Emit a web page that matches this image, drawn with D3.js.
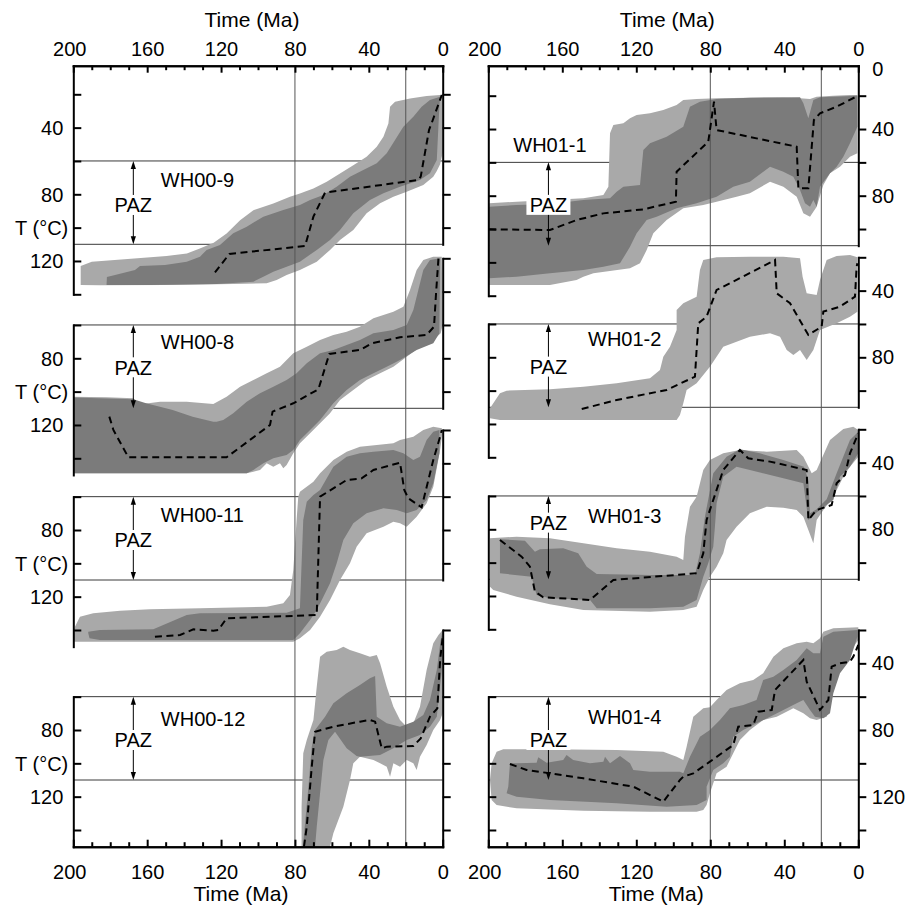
<!DOCTYPE html>
<html><head><meta charset="utf-8">
<script src="https://cdn.jsdelivr.net/npm/d3@7"></script>
<style>
body{margin:0;background:#fff;}
svg{display:block;}
</style></head><body>
<svg id="chart" width="911" height="905"></svg>
<script>
// ================= DATA (time in Ma, temperature in °C) =================
const timeTicks = [200, 160, 120, 80, 40, 0];
const minorTimeTicks = [190, 180, 170, 150, 140, 130, 110, 100, 90, 70, 60, 50, 30, 20, 10];
const referenceAges = [80, 20];
const pazLimits = [60, 110];
const sampleNames = ["WH00-9", "WH00-8", "WH00-11", "WH00-12", "WH01-1", "WH01-2", "WH01-3", "WH01-4"];

// outlines: acceptable-fit envelope (light), good-fit envelope (dark), best-fit path (dashed)
const WH00_9_acceptable = [[196,123],[190,120.5],[167,118.5],[149.5,117],[138.5,115.5],[131.5,112.5],[124,109],[117,103.5],[109.7,95.5],[102.5,89.5],[91.7,85.5],[82.7,81.5],[77.3,79.5],[70,76.5],[62.8,72.5],[55.6,67.5],[48.4,62.5],[41.2,57.5],[35.7,51.5],[32.1,45.5],[29.4,37.5],[28.5,27.5],[25.8,24.5],[17.7,22.5],[8.7,21],[1.4,20.4],[0,20],
 [0,55],[1.4,62],[3.2,66],[5.1,69.4],[10.5,74.4],[19.5,78.4],[26.7,81.4],[33.9,85.4],[41.2,91.4],[48.4,101.4],[55.6,107.4],[61,113.4],[68.2,120.4],[77.3,125.4],[84.5,128.4],[89.9,131.4],[95.3,133.4],[113.4,133.8],[149.5,134.4],[185.6,134.6],[196,134.4]];
const WH00_9_good = [[181.8,129.6],[177.4,128.4],[166.6,125.4],[163.9,123],[150.4,122.4],[138.6,120.4],[131.4,117.4],[127.8,113.4],[120.6,110.4],[113.4,103.4],[106.1,99.4],[97.1,93.4],[86.3,89.4],[77.3,86.4],[71.8,83.4],[64.6,80.4],[57.4,75.4],[50.2,69.4],[43,65.4],[35.7,61.4],[30.3,55.4],[25.8,47.4],[21.3,39.4],[15.9,33.4],[11.4,27.4],[6.9,23.4],[1.4,21.4],
 [1.8,27.4],[3.2,59.4],[6.9,67.4],[12.3,71.4],[23.1,75.4],[32.1,79.4],[39.4,83.4],[48.4,91.4],[55.6,101.4],[61,107.4],[68.2,113.4],[77.3,120.4],[84.5,123.4],[91.7,126.4],[97.1,129.4],[102.5,132.4],[122.4,133.8],[158.5,134.4],[182,134.4]];
const WH00_9_best = [[123.3,126.8],[115.5,115.8],[74.5,111],[70,93.4],[63.7,79],[13.2,71.4],[11.9,69.4],[7.4,41.4],[6,37.4],[0.5,20.4]];

const WH00_8_acceptable = [[200,103],[182,103.4],[167.5,104],[163.9,107.4],[159.4,107],[153,106],[138.6,106],[124.2,107.4],[117,103],[109.7,97],[102.5,93],[95.3,89],[88.1,85],[80.9,77],[73.6,73],[66.4,69],[59.2,66],[52,64],[44.8,61],[37.5,56],[26.7,52],[21.3,49],[17.7,39],[14.1,27],[10.5,21],[5.1,19],[0.5,19],
 [0,60],[1.1,65],[5.1,69],[12.3,73],[19.5,79],[26.7,85],[33.9,89],[41.2,93],[48.4,99],[55.6,105],[61,113],[66.4,119],[71.8,125],[77.3,131],[80.9,137],[84.5,144],[86.3,146],[88.1,143],[91.7,145],[95.3,143],[98.9,147],[102.5,148],[106.1,149],[200,149]];
const WH00_8_good = [[200,103.5],[167.5,104.5],[160.6,107],[146.2,111],[135.4,115],[124.2,118],[122.4,118],[118.8,117],[113.4,113],[106.1,106],[98.9,101],[91.7,97],[84.5,93],[79.1,89],[73.6,83],[66.4,77],[59.2,75],[52,72],[44.8,69],[37.5,65],[26.7,63],[19.5,60],[15.9,51],[13.2,39],[10.5,27],[6.9,21],[1.4,20],
 [1.8,65],[5.1,71],[14.1,75],[23.1,81],[30.3,85],[37.5,89],[44.8,93],[52,99],[59.2,107],[66.4,117],[71.8,123],[77.3,129],[80.9,135],[84.5,138],[91.7,140],[97.1,143],[102.5,147],[106.1,149],[200,149]];
const WH00_8_best = [[180.5,115],[178.3,123],[170.2,139.4],[117,139.4],[93.5,120],[92.1,112],[80.9,107],[67.3,98.6],[61.4,77.4],[44.8,75],[38.4,71],[23.1,67.4],[8.7,66],[4.7,61],[3.6,41],[2.3,20]];

const WH00_11_acceptable = [[199.1,138],[196.4,132],[189.2,130],[174.7,128.4],[158.5,127.6],[131.4,127],[95.3,126],[86.3,124],[82.7,119],[80.9,104],[79.1,74],[78.2,60],[77.3,57],[70,51],[66.4,46],[59.2,38],[52,33],[44.8,30],[35.7,29],[26.7,28],[23.1,26],[15.9,24],[10.5,20],[5.1,18],[0.5,19],
 [0,20],[1.4,32],[5.1,54],[8.7,64],[14.1,72],[19.5,78],[23.1,76],[26.7,75],[32.1,78],[41.2,82],[46.6,90],[50.2,100],[55.6,110],[61,122],[66.4,132],[71.8,140],[77.3,145],[80.9,147],[199.6,147],[199.6,142]];
const WH00_11_good = [[191.9,141],[185.6,140],[156.7,139.6],[138.6,131],[131.4,130],[84.5,129.6],[77.3,127],[75.5,74],[73.6,63],[70,59],[66.4,56],[59.2,42],[52,36],[44.8,34],[37.5,33],[26.7,32],[21.3,34],[15.9,38],[12.3,36],[8.7,26],[5.1,21],[1.8,20],
 [1.8,34],[5.1,52],[8.7,62],[14.1,68],[19.5,70],[24.9,68],[32.1,67],[41.2,70],[48.4,76],[53.8,86],[57.4,100],[61,112],[64.6,120],[68.2,128],[71.8,134],[77.3,142],[80.9,146],[185.6,146],[191.2,145],[191.9,142]];
const WH00_11_best = [[155.8,144],[142.2,143],[135,139.6],[124.2,140.4],[121.5,140],[117,133],[68.2,131],[66.4,60],[52,50],[43.9,49],[37.5,44],[23.1,39.6],[20.8,56],[18.6,61],[11.4,66.4],[5.1,38],[1.4,24],[0.5,20]];

const WH00_12_acceptable = [[76.4,150],[76.4,126],[75.5,94],[73.6,86],[70,74],[68.2,54],[66.4,36],[62.8,33],[57.4,32],[53.8,30],[50.2,32],[44.8,34],[39.4,36],[35.7,35],[33.9,40],[30.3,54],[26.7,66],[23.1,74],[19.5,78],[15.9,76],[12.3,66],[8.7,44],[5.1,28],[2.3,23],[0,20],
 [0,70],[1.4,74],[5.1,80],[8.7,89],[12.3,96],[14.1,104],[15.9,100],[19.5,98],[23.1,102],[26.7,100],[28.5,108],[30.3,102],[33.9,100],[37.5,98],[44.8,96],[48.4,100],[50.2,110],[53.8,126],[59.2,142],[61,150]];
const WH00_12_good = [[75.7,150],[72.7,114],[70.9,90],[69.1,80],[63.7,72],[59.2,64],[52,58],[44.8,53],[39.4,49],[36.6,47.6],[35.7,72],[30.3,76],[23.1,78],[15.9,75],[10.5,71],[6.9,62],[3.2,44],[1.1,26],[0,20],
 [0.5,44],[3.2,72],[6.9,78],[12.3,83],[19.5,86],[26.7,91],[33.9,95],[44.8,96],[46.6,95.6],[52,91],[58.3,81],[61.9,86],[64.6,98],[66.4,118],[68.2,138],[69.1,150]];
const WH00_12_best = [[75.1,150],[73.6,138],[70.9,102],[69.1,81],[59.2,78],[44.8,75],[39.4,74],[36.6,75],[33,91],[30.3,90],[15.9,89.6],[11.9,85],[6.9,72],[2.9,67],[1.4,38],[0,24]];

const WH01_1_acceptable = [[199.5,84.6],[184.7,83.6],[166.7,82.6],[148.6,81.6],[137.8,79.6],[135.1,74.6],[134.2,42.6],[132.4,37.6],[127,36.6],[123.4,33.6],[119.8,31.6],[112.6,30.6],[105.4,28.6],[98.2,25.6],[94.6,22.6],[87.4,22],[76.6,21.6],[58.6,21.2],[40.5,21.2],[31.5,21.6],[26.1,22],[22.5,20.6],[13.5,20],[4.5,19.6],[0.5,19.6],
 [0.5,54.6],[4.5,56.6],[9.9,62.6],[15.3,66.6],[18.9,73.6],[22.5,86.6],[26.1,92.6],[29.7,90.6],[33.3,80.6],[40.5,74.6],[47.7,71.6],[58.6,78.6],[65.8,80.6],[76.6,83.6],[83.8,85.6],[94.6,87.6],[103.6,94.6],[110.8,102.6],[114.4,112.6],[118,120.6],[123.4,123.6],[143.2,126.6],[148.6,128.6],[152.3,130.6],[166.7,133.6],[199.5,133.6]];
const WH01_1_good = [[199.5,86.6],[184.7,85.6],[166.7,85],[148.6,82.6],[134.2,81.6],[130.6,77.6],[127,74.6],[118,73.6],[116.2,52.6],[112.6,48.6],[103.6,44.6],[94.6,38.6],[91,26.6],[85.6,23.6],[76.6,22],[58.6,21.2],[31.5,21],[29.7,24.6],[27,33.6],[24.3,22.6],[20.7,21],[0.5,20],
 [0.5,38.6],[4.5,48.6],[8.1,56.6],[11.7,62.6],[15.3,66.6],[20.7,74.6],[22.5,86.6],[24.3,82.6],[26.1,86.6],[28.8,84.6],[31.5,76.6],[35.1,68.6],[40.5,65.6],[47.7,62.6],[58.6,71.6],[67.6,74.6],[76.6,80.6],[87.4,84.6],[98.2,87.6],[109,92.6],[114.4,94.6],[119.8,102.6],[123.4,110.6],[128.8,120.6],[137.8,122.6],[148.6,124.6],[166.7,126.6],[184.7,128.6],[199.5,129.6]];
const WH01_1_best = [[199.5,100.2],[166.7,100.6],[152.3,94.6],[137.8,90.6],[116.2,88.2],[98.6,83.6],[98.2,65.6],[81.1,47.6],[78,23.6],[76.6,40.6],[33.3,50.6],[32.4,75.6],[27,75.6],[24,34.6],[20.7,30.6],[11.7,26.6],[0.5,20.2]];

const WH01_2_acceptable = [[199.1,110.6],[193.7,101.6],[190.1,100],[166.7,99.2],[148.6,97.6],[130.6,95.6],[112.6,92.6],[107.2,87.6],[105.4,79.6],[101.8,73.6],[98.2,63.6],[98.2,51.6],[94.6,47.6],[87.4,43.6],[85.6,27.6],[83.8,21.6],[76.6,20],[58.6,19.6],[40.5,19.6],[31.5,20.6],[30.1,31.6],[27.9,41.6],[22.5,42.6],[20.7,33.6],[17.1,21.6],[11.7,19.2],[4.5,18.6],[0.5,20],
 [0.5,52.6],[4.5,55.6],[11.7,59.6],[20.7,63.6],[24.3,75.6],[27.9,81.6],[31.5,75.6],[35.1,78.6],[38.7,75.6],[42.3,67.6],[47.7,65.6],[58.6,67.6],[65.8,70.6],[73,73.6],[76.6,79.6],[80.2,85.6],[87.4,95.6],[92.8,99.6],[94.6,107.6],[96.4,114.6],[98.2,117.6],[193.7,117.6],[199.1,116.6]];
const WH01_2_good = [];
const WH01_2_best = [[149.5,111],[130.6,105.6],[103.6,99.6],[88.3,91.6],[86.5,59.6],[82,55.6],[76.6,39.6],[69.4,35.6],[45,21.6],[44.1,41.6],[36.9,47.6],[27,66.6],[19.8,61.6],[18.9,52.6],[9.9,49.6],[1.8,43.6],[0.9,25.6],[0.5,23.6]];

const WH01_3_acceptable = [[199.1,85.4],[184.7,84.4],[166.7,85.4],[148.6,88.4],[130.6,91.4],[112.6,93.4],[98.2,96.4],[94.6,98.4],[93.7,84.4],[91,66.4],[87.4,60.4],[83.8,44.4],[80.2,38.4],[73,34.4],[64,32.4],[49.5,33.4],[33.3,32.4],[29.7,36.4],[25.2,46.4],[22.5,44.4],[15.3,26.4],[8.1,19.8],[2.7,18.4],[0,20.4],
 [0,36.4],[4.5,42.4],[8.1,48.4],[13.5,60.4],[18.9,68.4],[22.5,74.4],[24.3,88.4],[27,80.4],[29.7,72.4],[33.3,68.4],[40.5,67],[49.5,66.4],[58.6,70.4],[65.8,78.4],[71.2,86.4],[73,94.4],[76.6,102.4],[80.2,108.4],[83.8,116.4],[87.4,126.4],[94.6,128.4],[112.6,129.4],[148.6,128.4],[166.7,125],[184.7,120.4],[197.3,116.4],[199.1,114.4]];
const WH01_3_good = [[193.7,86],[180.2,86.8],[174.8,93.4],[172.1,92],[159.5,91.4],[151.4,94.4],[146.8,102.4],[141.4,106.8],[112.6,107.4],[88.3,107.4],[85.6,94.4],[82.9,72.4],[78.4,46.4],[71.2,36.4],[64,32],[53.2,34.4],[40.5,38.4],[29.4,42.4],[27,50.4],[26.1,70.4],[22.5,68],[17.1,62],[11.7,46.4],[4.5,26.4],[0,21.4],
 [0,34.4],[4.5,42.4],[9.9,48.4],[13.5,62.4],[18.9,66.8],[24.3,71.4],[27,74.4],[29.7,52.4],[40.5,49.4],[58.6,44.4],[65.8,42.4],[73,48.4],[76.6,64.4],[77.5,78.4],[78.4,90.4],[81.1,100.4],[83.8,108.4],[87.4,122.4],[94.6,126.4],[112.6,127.4],[141.4,127.4],[145,122.4],[166.7,121.4],[173.9,119.4],[176.6,108.4],[193.7,106.4]];
const WH01_3_best = [[193.7,86.4],[182,96.4],[177.5,102.4],[174.8,117.4],[170.3,120.8],[145,122.4],[132.4,110.4],[87.4,106.4],[83.8,94.4],[82,74.4],[73,44.4],[64,32.4],[59.5,37.4],[47.7,39.4],[27.9,44.4],[27,74.4],[22.5,68.4],[14.4,65.4],[11.7,52.4],[7.2,47.4],[4.5,34.4],[0,22.4]];

const WH01_4_acceptable = [[198.2,100],[195.5,93],[191.9,91.6],[166.7,91.6],[130.6,92],[105.4,93],[98.2,96],[94.6,98],[92.8,90],[89.2,72],[83.8,67],[80.2,66.4],[76.6,62],[71.2,56],[64,52],[56.8,50],[51.4,46],[45.9,36],[40.5,31],[33.3,28],[27.9,27],[24.3,28],[20.7,25],[18.9,21],[13.5,19],[0,18.4],
 [0,26],[4.5,33],[11.7,44],[14.4,62],[17.1,72],[22.5,74],[26.1,73],[29.7,70],[35.1,67],[44.1,72],[51.4,74],[58.6,80],[64,86],[67.6,94],[71.2,102],[76.6,106],[80.2,118],[82,125],[83.8,128],[87.4,129],[112.6,129],[148.6,128.4],[184.7,127],[195.5,125],[198.2,122],[199.1,110]];
const WH01_4_good = [[188.3,100],[184.7,100],[173.9,99.6],[173,96.4],[168.5,99.6],[159.5,98],[157.7,95],[154.1,98],[145,100],[137.8,99],[136.9,96],[134.2,100],[128.8,95.6],[123.4,100],[121.6,104],[112.6,105],[96.4,105],[94.6,106],[91,96],[85.6,84],[80.2,80],[74.8,74],[69.4,67],[62.2,65],[55,62],[51.4,50],[45.9,48],[40.5,44],[33.3,38],[27.9,31],[24.3,34],[20.7,34],[18.9,24],[13.5,21],[0.5,20],
 [0.5,24],[4.5,38],[9.9,46],[13.5,58],[15.3,70],[18.9,73],[23.4,72],[26.1,68],[29.7,62],[33.3,64],[40.5,68],[47.7,72],[55,76],[62.2,80],[67.6,84],[69.4,96],[73,100],[78.4,104],[82,114],[82,122],[87.4,125],[103.6,126],[130.6,124],[166.7,122],[184.7,120],[190.1,118],[189.2,114]];
const WH01_4_best = [[188.3,100.4],[179.3,104],[166.7,106],[148.6,109],[121.6,114],[105.4,123],[96.4,110],[94.6,108],[89.2,106],[80.2,99],[67.6,89],[64.9,78],[56.8,77],[54.1,69],[46.8,68],[45,56],[29.7,38],[27.9,51],[20.7,68],[16.2,62],[14.4,42],[9.9,40],[4.5,39],[2.7,36],[0,29]];

// ================= LAYOUT =================
const FONT = '"Liberation Sans", Arial, Helvetica, sans-serif';
const FS = 20;
const LIGHT = "#a9a9a9", DARK = "#7b7b7b";
const TOP_Y = 65.7, BOTTOM_Y = 846.7, DEG = 5 / 3;
const colX = [[73.3, 442.7], [488.3, 858.3]];
const rowY80 = [[194.3, 358.3, 530, 730], [195.7, 357.3, 529.3, 730]];
const pazArrowAge = 167.5;

const panels = [
  {col:0,row:0,acc:WH00_9_acceptable,good:WH00_9_good,best:WH00_9_best,left:["top",140],leftTicks:[20,40,60,80,100,120,140],right:["top",110],rightTicks:[20,40,60,80,100],labels:[40,80,120],nameAt:[152.6,71],pazT:86.4},
  {col:0,row:1,acc:WH00_8_acceptable,good:WH00_8_good,best:WH00_8_best,left:[60,150],leftTicks:[60,80,100,120,140],right:[20,110],rightTicks:[20,40,60,80,100],labels:[80,120],nameAt:[152.6,70],pazT:85.4},
  {col:0,row:2,acc:WH00_11_acceptable,good:WH00_11_good,best:WH00_11_best,left:[60,150],leftTicks:[60,80,100,120,140],right:[20,110],rightTicks:[20,40,60,80,100],labels:[80,120],nameAt:[152.6,71],pazT:86},
  {col:0,row:3,acc:WH00_12_acceptable,good:WH00_12_good,best:WH00_12_best,left:[60,"bottom"],leftTicks:[60,80,100,120,140],right:[20,"bottom"],rightTicks:[20,40,60,80,100,120,140],labels:[80,120],nameAt:[152.6,73],pazT:86},
  {col:1,row:0,acc:WH01_1_acceptable,good:WH01_1_good,best:WH01_1_best,left:["top",140],leftTicks:[20,40,60,80,100,120,140],right:["top",110],rightTicks:[20,40,60,80,100],labels:[40,80],zero:true,nameAt:[186.5,49.6],pazT:85.5},
  {col:1,row:1,acc:WH01_2_acceptable,good:WH01_2_good,best:WH01_2_best,left:[60,140],leftTicks:[60,80,100,120,140],right:[20,110],rightTicks:[20,40,60,80,100],labels:[40,80],nameAt:[146.1,68.6],pazT:85.6},
  {col:1,row:2,acc:WH01_3_acceptable,good:WH01_3_good,best:WH01_3_best,left:[60,140],leftTicks:[60,80,100,120,140],right:[20,110],rightTicks:[20,40,60,80,100],labels:[40,80],nameAt:[146.1,72],pazT:76},
  {col:1,row:3,acc:WH01_4_acceptable,good:WH01_4_good,best:WH01_4_best,left:[60,"bottom"],leftTicks:[60,80,100,120,140],right:[20,"bottom"],rightTicks:[20,40,60,80,100,120,140],labels:[40,80,120],nameAt:[146.1,72],pazT:86}
];
panels.forEach((p, i) => p.name = sampleNames[i]);

const svg = d3.select("#chart");
const xScales = colX.map(([a, b]) => d3.scaleLinear().domain([200, 0]).range([a, b]));
panels.forEach(p => {
  const y80 = rowY80[p.col][p.row];
  p.x = xScales[p.col];
  p.y = d3.scaleLinear().domain([80, 160]).range([y80, y80 + 80 * DEG]);
});

const gPaz = svg.append("g"), gFill = svg.append("g"), gRef = svg.append("g"),
      gBest = svg.append("g"), gAxes = svg.append("g"), gText = svg.append("g");

// PAZ frame lines
panels.forEach(p => {
  pazLimits.forEach(T => {
    gPaz.append("line").attr("x1", p.x(200)).attr("x2", p.x(0))
      .attr("y1", p.y(T)).attr("y2", p.y(T))
      .attr("stroke", "#3a3a3a").attr("stroke-width", 1);
  });
});

// Envelopes
panels.forEach(p => {
  const line = d3.line().x(d => p.x(d[0])).y(d => p.y(d[1]));
  if (p.acc.length) gFill.append("path").attr("d", line(p.acc) + "Z").attr("fill", LIGHT);
  if (p.good.length) gFill.append("path").attr("d", line(p.good) + "Z").attr("fill", DARK);
});

// reference ages
xScales.forEach(x => {
  referenceAges.forEach(a => {
    gRef.append("line").attr("x1", x(a)).attr("x2", x(a)).attr("y1", TOP_Y).attr("y2", BOTTOM_Y)
      .attr("stroke", "#555").attr("stroke-width", 1);
  });
});

// best-fit paths
panels.forEach(p => {
  const line = d3.line().x(d => p.x(d[0])).y(d => p.y(d[1]));
  gBest.append("path").attr("d", line(p.best)).attr("fill", "none")
    .attr("stroke", "#000").attr("stroke-width", 2).attr("stroke-dasharray", "7,4.5");
});

function styleAxis(g) {
  g.attr("font-family", FONT).attr("font-size", FS);
  g.selectAll("g").attr("font-family", FONT).attr("font-size", FS);
  g.selectAll(".domain").attr("stroke", "#000").attr("stroke-width", 2).attr("stroke-linecap", "square");
  g.selectAll(".tick line").attr("stroke", "#000").attr("stroke-width", 2);
  g.selectAll(".tick text").attr("fill", "#000").attr("font-size", FS).attr("font-family", FONT);
}

// temperature axes
panels.forEach(p => {
  const endY = v => v === "top" ? TOP_Y : v === "bottom" ? BOTTOM_Y : p.y(v);
  const endT = v => p.y.invert(endY(v));
  [["left", p.x(200), p.leftTicks], ["right", p.x(0), p.rightTicks]].forEach(([side, xpos, ticks]) => {
    const lim = p[side];
    const s = d3.scaleLinear().domain([endT(lim[0]), endT(lim[1])]).range([endY(lim[0]), endY(lim[1])]);
    const showLabels = side === "right" && p.col === 1;
    const ax = d3.axisRight(s).tickValues(ticks).tickSize(8).tickSizeOuter(0).tickPadding(5.5)
      .tickFormat(d => showLabels && p.labels.includes(d) ? d : "");
    const g = gAxes.append("g").attr("transform", `translate(${xpos},0)`).call(ax);
    styleAxis(g);
  });
  if (p.col === 0) {
    p.labels.forEach(v => {
      gText.append("text").attr("x", p.x(200) - 10).attr("y", p.y(v)).attr("dy", "0.36em")
        .attr("text-anchor", "end").attr("font-family", FONT).attr("font-size", FS).text(v);
    });
    gText.append("text").attr("x", p.x(200) - 5).attr("y", p.y(100)).attr("dy", "0.36em")
      .attr("text-anchor", "end").attr("font-family", FONT).attr("font-size", FS).text("T (°C)");
  }
  if (p.zero) {
    gText.append("text").attr("x", p.x(0) + 14).attr("y", TOP_Y + 3.5).attr("dy", "0.36em")
      .attr("font-family", FONT).attr("font-size", FS).text("0");
  }
});

// time axes
xScales.forEach((x, c) => {
  const gt = gAxes.append("g").attr("transform", `translate(0,${TOP_Y})`);
  gt.append("g").call(d3.axisTop(x).tickValues(minorTimeTicks).tickSize(-4.5).tickSizeOuter(0).tickFormat(""));
  gt.append("g").call(d3.axisTop(x).tickValues(timeTicks).tickSize(-7).tickSizeOuter(0).tickPadding(9.5));
  styleAxis(gt);
  const gb = gAxes.append("g").attr("transform", `translate(0,${BOTTOM_Y})`);
  gb.append("g").call(d3.axisBottom(x).tickValues(minorTimeTicks).tickSize(-4.5).tickSizeOuter(0).tickFormat(""));
  gb.append("g").call(d3.axisBottom(x).tickValues(timeTicks).tickSize(-7).tickSizeOuter(0).tickPadding(18));
  styleAxis(gb);
  [gt, gb].forEach(g => g.selectAll(".tick text").filter(d => d === 200).attr("dx", -4));
  gText.append("text").attr("x", x(100) - 6).attr("y", 26.5).attr("text-anchor", "middle")
    .attr("font-family", FONT).attr("font-size", 21).text("Time (Ma)");
  gText.append("text").attr("x", x(100) - 17).attr("y", 900.5).attr("text-anchor", "middle")
    .attr("font-family", FONT).attr("font-size", 21).text("Time (Ma)");
});

// PAZ arrows, labels, sample names
panels.forEach(p => {
  const ax = p.x(pazArrowAge), y1 = p.y(pazLimits[0]), y2 = p.y(pazLimits[1]);
  gText.append("line").attr("x1", ax).attr("x2", ax).attr("y1", y1 + 5).attr("y2", y2 - 5)
    .attr("stroke", "#000").attr("stroke-width", 1);
  gText.append("path").attr("d", `M${ax},${y1}L${ax - 2.6},${y1 + 8}L${ax + 2.6},${y1 + 8}Z`).attr("fill", "#000");
  gText.append("path").attr("d", `M${ax},${y2}L${ax - 2.6},${y2 - 8}L${ax + 2.6},${y2 - 8}Z`).attr("fill", "#000");
  const ty = p.y(p.pazT);
  gText.append("rect").attr("x", ax - 22).attr("y", ty - 10).attr("width", 44).attr("height", 20).attr("fill", "#fff");
  gText.append("text").attr("x", ax).attr("y", ty).attr("dy", "0.36em").attr("text-anchor", "middle")
    .attr("font-family", FONT).attr("font-size", FS).text("PAZ");
  gText.append("text").attr("x", p.x(p.nameAt[0])).attr("y", p.y(p.nameAt[1])).attr("dy", "0.36em")
    .attr("font-family", FONT).attr("font-size", FS).text(p.name);
});
</script>
</body></html>
